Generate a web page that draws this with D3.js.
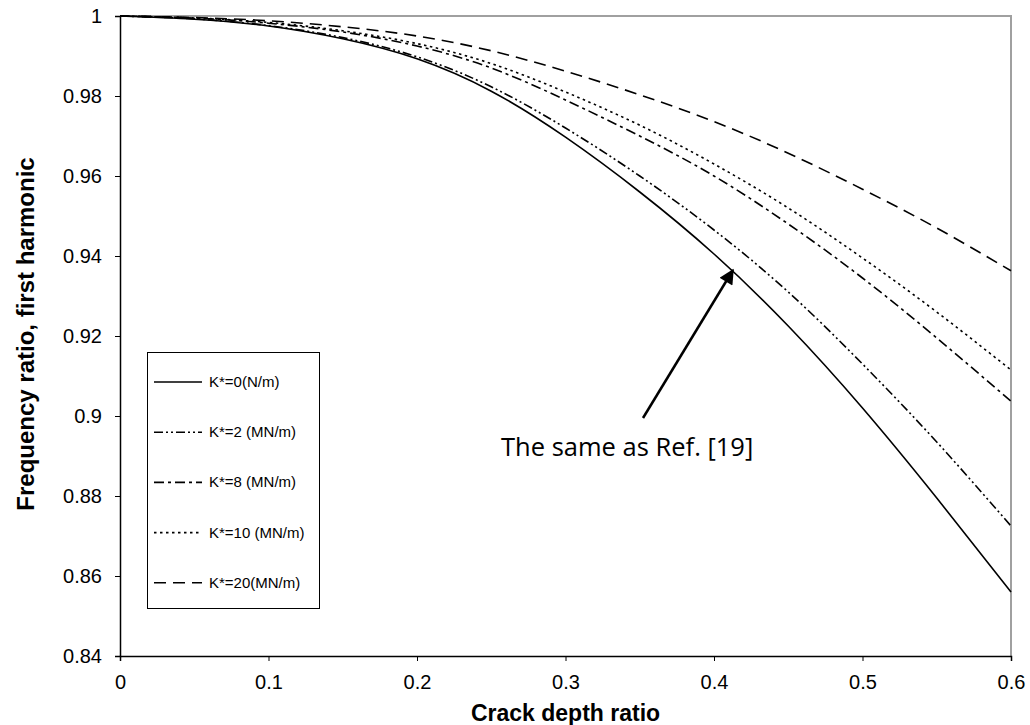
<!DOCTYPE html>
<html>
<head>
<meta charset="utf-8">
<script src="https://cdn.jsdelivr.net/npm/d3@7"></script>
<style>
  body { margin: 0; background: #fff; }
  text { font-family: "Liberation Sans", Arial, sans-serif; }
</style>
</head>
<body>
<svg id="chart" width="1030" height="725"></svg>
<script>
// crack depth ratio samples
const crackDepth = [0, 0.05, 0.1, 0.15, 0.2, 0.25, 0.3, 0.35, 0.4, 0.45, 0.5, 0.55, 0.6];

// frequency ratio, one array per spring stiffness
const k0 = [1.0, 0.9992, 0.9975, 0.9943, 0.9893, 0.9812, 0.9697, 0.956, 0.9405, 0.9225, 0.902, 0.8795, 0.856];
const k2 = [1.0, 0.9993, 0.9976, 0.9946, 0.9898, 0.9823, 0.972, 0.960, 0.9465, 0.931, 0.913, 0.8935, 0.8725];
const k8 = [1.0, 0.9995, 0.9982, 0.996, 0.9925, 0.987, 0.979, 0.970, 0.960, 0.948, 0.9345, 0.9195, 0.9037];
const k10 = [1.0, 0.9995, 0.9984, 0.9963, 0.9931, 0.9881, 0.981, 0.9727, 0.963, 0.952, 0.9395, 0.926, 0.9115];
const k20 = [1.0, 0.9996, 0.9988, 0.9973, 0.995, 0.9913, 0.9862, 0.9803, 0.9736, 0.9657, 0.9567, 0.947, 0.9363];

const seriesNames = ["K*=0(N/m)", "K*=2 (MN/m)", "K*=8 (MN/m)", "K*=10 (MN/m)", "K*=20(MN/m)"];
const seriesValues = [k0, k2, k8, k10, k20];
const dashes = ["none", "9,3,2,3,2,3", "10,4,3,4", "2.5,3.5", "12,7"];

const xTicks = [0, 0.1, 0.2, 0.3, 0.4, 0.5, 0.6];
const yTicks = [0.84, 0.86, 0.88, 0.9, 0.92, 0.94, 0.96, 0.98, 1];

const width = 1030, height = 725;
const margin = { top: 16, right: 19, bottom: 69, left: 120 };
const innerW = width - margin.left - margin.right;
const innerH = height - margin.top - margin.bottom;

const svg = d3.select("#chart");

const x = d3.scaleLinear().domain([0, 0.6]).range([margin.left, margin.left + innerW]);
const y = d3.scaleLinear().domain([0.84, 1]).range([margin.top + innerH, margin.top]);

// grey frame on top and right
svg.append("path")
  .attr("d", `M${x(0)},${y(1)}H${x(0.6)}V${y(0.84)}`)
  .attr("fill", "none")
  .attr("stroke", "#a0a0a0")
  .attr("stroke-width", 2);

// axes
const xAxis = svg.append("g")
  .attr("transform", `translate(0,${y(0.84)})`)
  .call(d3.axisBottom(x).tickValues(xTicks).tickFormat(d3.format("~g")).tickSize(5).tickPadding(14));
const yAxis = svg.append("g")
  .attr("transform", `translate(${x(0)},0)`)
  .call(d3.axisLeft(y).tickValues(yTicks).tickFormat(d3.format("~g")).tickSize(5).tickPadding(13));

[xAxis, yAxis].forEach(g => {
  g.select(".domain").attr("stroke", "#000").attr("stroke-width", 1.5);
  g.selectAll(".tick line").attr("stroke", "#000");
  g.selectAll(".tick text")
    .attr("fill", "#000")
    .style("font-family", "'Liberation Sans', Arial, sans-serif")
    .style("font-size", "20px");
});

// axis titles
svg.append("text")
  .attr("x", x(0.3))
  .attr("y", 721)
  .attr("text-anchor", "middle")
  .style("font-size", "23px")
  .style("font-weight", "bold")
  .text("Crack depth ratio");

svg.append("text")
  .attr("transform", `translate(34,${y(0.92) - 2}) rotate(-90)`)
  .attr("text-anchor", "middle")
  .style("font-size", "24px")
  .style("font-weight", "bold")
  .text("Frequency ratio, first harmonic");

// curves
const line = d3.line()
  .x((d, i) => x(crackDepth[i]))
  .y(d => y(d))
  .curve(d3.curveNatural);

svg.selectAll(".curve")
  .data(seriesValues)
  .enter()
  .append("path")
  .attr("class", "curve")
  .attr("d", d => line(d))
  .attr("fill", "none")
  .attr("stroke", "#000")
  .attr("stroke-width", 1.6)
  .attr("stroke-dasharray", (d, i) => dashes[i]);

// legend
const legend = svg.append("g");
legend.append("rect")
  .attr("x", 147.5).attr("y", 352.5)
  .attr("width", 172).attr("height", 256)
  .attr("fill", "#fff")
  .attr("stroke", "#000")
  .attr("stroke-width", 1);

seriesNames.forEach((name, i) => {
  const ly = 382 + i * 50.2;
  legend.append("line")
    .attr("x1", 154).attr("x2", 202)
    .attr("y1", ly).attr("y2", ly)
    .attr("stroke", "#000")
    .attr("stroke-width", 1.6)
    .attr("stroke-dasharray", dashes[i]);
  legend.append("text")
    .attr("x", 209).attr("y", ly + 5)
    .style("font-size", "15px")
    .text(name);
});

// annotation arrow
svg.append("defs").append("marker")
  .attr("id", "head")
  .attr("viewBox", "0 0 10 10")
  .attr("refX", 9).attr("refY", 5)
  .attr("markerWidth", 7).attr("markerHeight", 6)
  .attr("markerUnits", "strokeWidth")
  .attr("orient", "auto")
  .append("path")
  .attr("d", "M0,0L10,5L0,10z")
  .attr("fill", "#000");

svg.append("line")
  .attr("x1", x(0.3522)).attr("y1", y(0.8995))
  .attr("x2", x(0.4128)).attr("y2", y(0.9365))
  .attr("stroke", "#000")
  .attr("stroke-width", 2.5)
  .attr("marker-end", "url(#head)");

svg.append("text")
  .attr("x", x(0.2566))
  .attr("y", y(0.89))
  .style("font-family", "'Open Sans', sans-serif")
  .style("font-size", "25.5px")
  .text("The same as Ref. [19]");
</script>
</body>
</html>
